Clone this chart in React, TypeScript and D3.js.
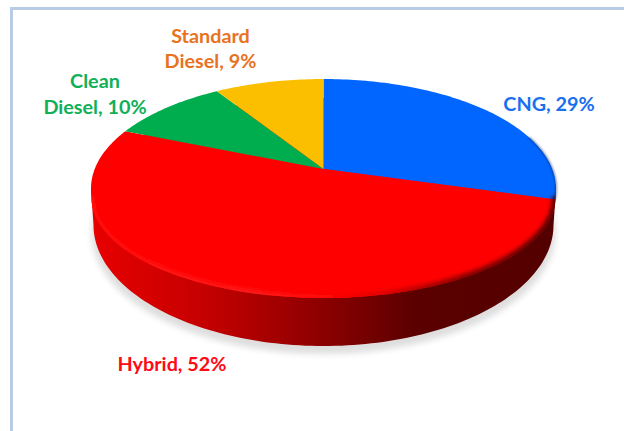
import React from "react";
import * as d3 from "d3";

const categories = ["CNG", "Hybrid", "Clean Diesel", "Standard Diesel"];
const shares = [29.4, 51.8, 9.8, 9.0];
const colors = ["#0066ff", "#ff0000", "#00ad4e", "#fcbf00"];
const labelLines = [["CNG, 29%"], ["Hybrid, 52%"], ["Clean", "Diesel, 10%"], ["Standard", "Diesel, 9%"]];
const labelColors = ["#1a6ff0", "#ff0a14", "#10b058", "#e8731e"];
const labelPos = [[549, 110.7], [172, 371], [95, 88], [210.5, 42.7]];

const W = 624, H = 431;
const cx = 323.5, cy = 169, A = 228.8, B = 106, k = 0.178;
const lip = { cy: 198, rx: 232, ry: 100 };
const base = { cy: 225, rx: 230, ry: 121 };

// Perspective projection of the unit pie disc on the page
const project = (t: number): [number, number] => {
  const u = Math.sin(t), v = -Math.cos(t), w = 1 - k * v;
  return [cx + (A * u) / w, cy + (B * v) / w];
};
const rim = (a0: number, a1: number) => {
  const n = Math.max(2, Math.ceil(Math.abs(a1 - a0) / 0.02));
  return d3.range(n + 1).map((i) => project(a0 + ((a1 - a0) * i) / n));
};
const line = d3.line();
const arcs = d3.pie<number>().sort(null).value((d) => d)(shares);
const slicePath = (a0: number, a1: number) => `M${cx},${cy}L` + line(rim(a0, a1))!.slice(1) + "Z";

const ovalArc = (o: { cy: number; rx: number; ry: number }, a0: number, a1: number) => {
  const n = 120;
  return d3.range(n + 1).map((i) => {
    const t = a0 + ((a1 - a0) * i) / n;
    return [cx + o.rx * Math.cos(t), o.cy + o.ry * Math.sin(t)] as [number, number];
  });
};
// Side wall silhouette: straight down from the disc's widest points to the base oval
const sidePath =
  line([[91, 190], [556, 190], ...ovalArc(base, 0, Math.PI), [91, 190]])! + "Z";
const lipBottom = line(ovalArc(lip, -0.02, Math.PI + 0.02))!;

export default function App() {
  const cng = arcs[0];
  return (
    <svg width={W} height={H} style={{ position: "fixed", left: 0, top: 0, background: "#fff" }}>
      <defs>
        <linearGradient id="side" gradientUnits="userSpaceOnUse" x1={91} x2={556} y1={0} y2={0}>
          <stop offset="0" stopColor="#e80000" />
          <stop offset="0.25" stopColor="#c40000" />
          <stop offset="0.5" stopColor="#8c0000" />
          <stop offset="0.7" stopColor="#5a0000" />
          <stop offset="1" stopColor="#540000" />
        </linearGradient>
        <linearGradient id="bevel" gradientUnits="userSpaceOnUse" x1={91} x2={556} y1={0} y2={0}>
          <stop offset="0" stopColor="#ff0c0c" />
          <stop offset="0.35" stopColor="#ff1c1c" />
          <stop offset="0.5" stopColor="#ff0808" />
          <stop offset="0.62" stopColor="#e00000" />
          <stop offset="0.8" stopColor="#800000" />
          <stop offset="1" stopColor="#500000" />
        </linearGradient>
        <filter id="blurShadow" x="-10%" y="-10%" width="120%" height="120%">
          <feGaussianBlur stdDeviation="3" />
        </filter>
        <filter id="blurBevel" x="-10%" y="-20%" width="120%" height="140%">
          <feGaussianBlur stdDeviation="2" />
        </filter>
        <clipPath id="lipClip"><ellipse cx={cx} cy={lip.cy} rx={lip.rx} ry={lip.ry} /></clipPath>
      </defs>

      <path d={`M${W},8.5H11.5V${H}`} fill="none" stroke="#b8cce4" strokeWidth={3} />

      <ellipse cx={cx} cy={base.cy + 8} rx={base.rx + 2} ry={base.ry} fill="#000" opacity={0.13} filter="url(#blurShadow)" />
      <path d={sidePath} fill="url(#side)" />
      <ellipse cx={cx} cy={lip.cy} rx={lip.rx} ry={lip.ry} fill={colors[1]} />

      {arcs.map((a, i) => (
        <path key={categories[i]} d={slicePath(a.startAngle, a.endAngle)} fill={colors[i]} />
      ))}

      <g clipPath="url(#lipClip)">
        <path d={lipBottom} fill="none" stroke="url(#bevel)" strokeWidth={7} filter="url(#blurBevel)" />
      </g>
      <path d={line(rim(cng.startAngle + 1.25, cng.endAngle))!} fill="none" stroke="#00245f" strokeWidth={1.4} opacity={0.7} style={{ filter: "blur(0.8px)" }} />

      {labelLines.map((lines, i) => (
        <text
          key={categories[i]}
          x={labelPos[i][0]}
          y={labelPos[i][1]}
          textAnchor="middle"
          fontFamily="Lato, sans-serif"
          fontWeight={700}
          fontSize={19.8}
          fill={labelColors[i]}
        >
          {lines.map((l, j) => (
            <tspan key={l} x={labelPos[i][0]} dy={j === 0 ? 0 : 25.5}>{l}</tspan>
          ))}
        </text>
      ))}
    </svg>
  );
}
